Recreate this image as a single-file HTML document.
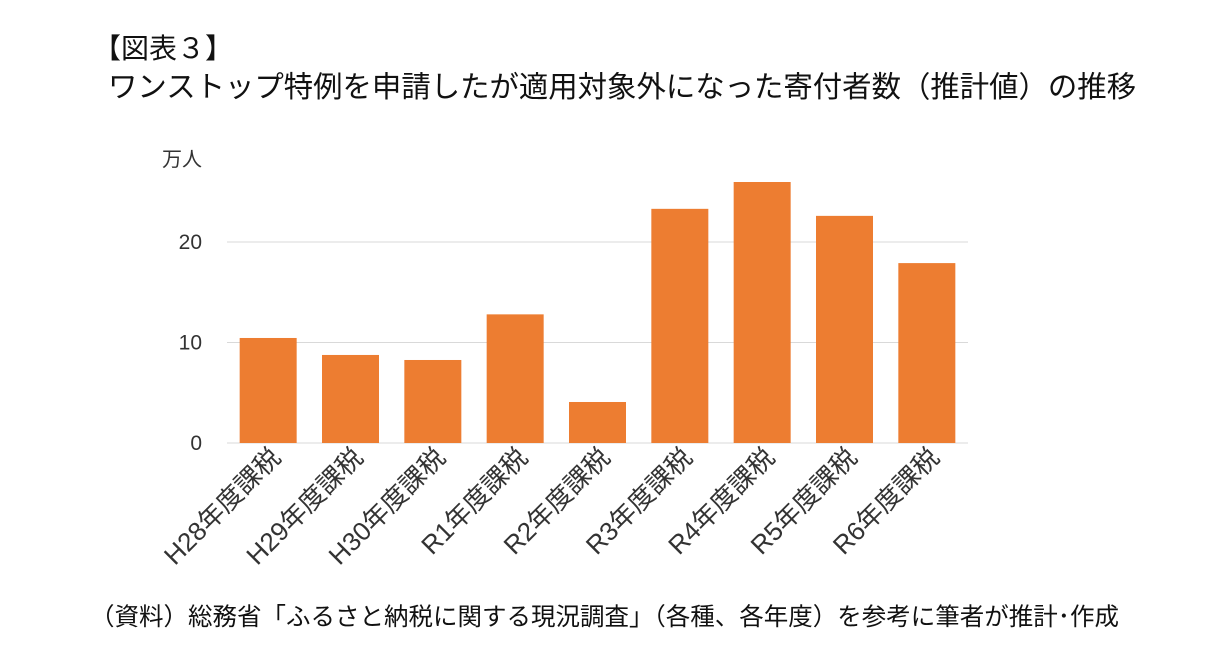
<!DOCTYPE html>
<html><head><meta charset="utf-8">
<style>
body{margin:0;background:#fff;width:1225px;height:658px;overflow:hidden;font-family:"Liberation Sans","Noto Sans CJK JP",sans-serif;}
.t{position:absolute;color:#111;white-space:nowrap;}
</style></head><body>
<div class="t" style="left:93px;top:27px;font-size:28px;">【図表３】</div>
<div class="t" style="left:108px;top:64px;font-size:29.4px;">ワンストップ特例を申請したが適用対象外になった寄付者数（推計値）の推移</div>
<svg id="chart" width="1225" height="658" style="position:absolute;left:0;top:0"></svg>
<div class="t" style="left:90px;top:598px;font-size:24.5px;">（資料）総務省「ふるさと納税に関する現況調査」（各種、各年度）を参考に筆者が推計･作成</div>
<script>
const categories=["H28年度課税","H29年度課税","H30年度課税","R1年度課税","R2年度課税","R3年度課税","R4年度課税","R5年度課税","R6年度課税"];
const values=[10.45,8.76,8.26,12.8,4.08,23.3,25.97,22.6,17.9];
const yTicks=[0,10,20];
const unitLabel="万人";
const NS="http://www.w3.org/2000/svg";
const svg=document.getElementById('chart');
const x0=227,x1=968,y0=443,pxPer=10.05;
const bw=(x1-x0)/categories.length,barW=57;
const y=v=>y0-v*pxPer;
const xc=i=>x0+bw*(i+0.5);
function mk(t,a){const e=document.createElementNS(NS,t);for(const k in a)e.setAttribute(k,a[k]);svg.appendChild(e);return e;}
yTicks.forEach(v=>{
  const l=mk('line',{x1:x0,x2:x1,y1:y(v),y2:y(v),stroke:'#d9d9d9','stroke-width':1});
  
  
  const t=mk('text',{x:202,y:y(v)+7,'text-anchor':'end','font-size':21,fill:'#333','font-family':'Liberation Sans, sans-serif'});
  t.textContent=v;
  
  
});
const u=mk('text',{x:162,y:166,'font-size':20,fill:'#333','font-family':'Liberation Sans, Noto Sans CJK JP, sans-serif'});
u.textContent=unitLabel;


categories.forEach((c,i)=>{
  const r=mk('rect',{x:xc(i)-barW/2,y:y(values[i]),width:barW,height:y0-y(values[i]),fill:'#ed7d31'});
  
  
  const ax=xc(i)+14,ay=y0+16;
  const t=mk('text',{x:ax,y:ay,'text-anchor':'end','font-size':26,fill:'#333',transform:`rotate(-45 ${ax} ${ay})`,'font-family':'Liberation Sans, Noto Sans CJK JP, sans-serif'});
  t.textContent=c;
  
  
});
</script>
</body></html>
